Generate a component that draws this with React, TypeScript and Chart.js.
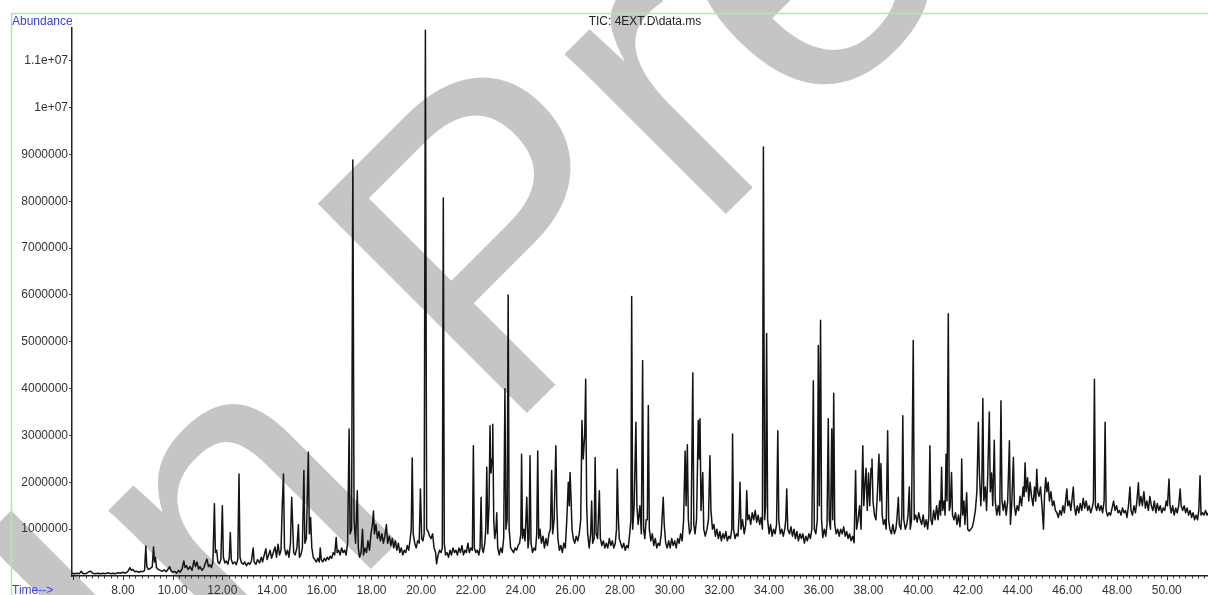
import React, { useEffect, useRef } from "react";
import { Chart, registerables } from "chart.js";

Chart.register(...registerables);

// Retention time (min) and TIC abundance (millions)
const TRACE_06_17: [number, number][] = [
  [5.95, 0.06], [6.05, 0.05], [6.15, 0.06], [6.25, 0.05], [6.32, 0.1], [6.38, 0.06], [6.45, 0.05], [6.55, 0.06],
  [6.62, 0.09], [6.7, 0.1], [6.78, 0.06], [6.88, 0.05], [7.0, 0.06], [7.1, 0.05], [7.2, 0.06], [7.3, 0.05],
  [7.4, 0.07], [7.5, 0.05], [7.6, 0.06], [7.7, 0.05], [7.8, 0.07], [7.9, 0.06], [8.0, 0.08], [8.1, 0.06],
  [8.2, 0.1], [8.28, 0.18], [8.34, 0.12], [8.4, 0.14], [8.48, 0.09], [8.56, 0.1], [8.64, 0.08], [8.72, 0.1],
  [8.8, 0.09], [8.87, 0.12], [8.92, 0.64], [8.96, 0.2], [9.02, 0.14], [9.1, 0.16], [9.18, 0.2], [9.23, 0.62],
  [9.27, 0.3], [9.31, 0.4], [9.35, 0.18], [9.42, 0.14], [9.5, 0.12], [9.58, 0.1], [9.66, 0.13], [9.74, 0.09],
  [9.82, 0.15], [9.88, 0.2], [9.93, 0.12], [10.0, 0.08], [10.08, 0.1], [10.16, 0.06], [10.24, 0.12], [10.3, 0.08],
  [10.38, 0.15], [10.45, 0.32], [10.5, 0.18], [10.56, 0.22], [10.62, 0.14], [10.7, 0.2], [10.78, 0.12], [10.86, 0.33],
  [10.92, 0.2], [10.98, 0.3], [11.04, 0.15], [11.1, 0.2], [11.18, 0.12], [11.26, 0.18], [11.33, 0.3], [11.38, 0.36],
  [11.44, 0.2], [11.5, 0.24], [11.56, 0.18], [11.62, 0.3], [11.68, 1.54], [11.72, 0.5], [11.77, 0.55], [11.82, 0.3],
  [11.88, 0.26], [11.94, 0.35], [12.0, 1.5], [12.04, 0.4], [12.1, 0.28], [12.16, 0.32], [12.22, 0.25], [12.28, 0.4],
  [12.32, 0.93], [12.36, 0.35], [12.42, 0.26], [12.5, 0.3], [12.56, 0.24], [12.62, 0.35], [12.67, 2.18], [12.71, 0.4],
  [12.77, 0.28], [12.84, 0.25], [12.9, 0.3], [12.97, 0.22], [13.04, 0.28], [13.1, 0.25], [13.17, 0.32], [13.24, 0.6],
  [13.28, 0.3], [13.35, 0.25], [13.42, 0.35], [13.5, 0.28], [13.57, 0.4], [13.62, 0.3], [13.7, 0.48], [13.75, 0.58],
  [13.8, 0.35], [13.86, 0.45], [13.92, 0.55], [13.98, 0.38], [14.05, 0.5], [14.12, 0.62], [14.18, 0.4], [14.24, 0.68],
  [14.3, 0.45], [14.36, 0.55], [14.41, 1.5], [14.46, 2.18], [14.5, 0.6], [14.56, 0.45], [14.62, 0.55], [14.68, 0.4],
  [14.74, 0.7], [14.79, 1.68], [14.83, 1.1], [14.87, 0.5], [14.93, 0.45], [15.0, 0.6], [15.06, 1.1], [15.1, 0.4],
  [15.16, 0.45], [15.22, 0.6], [15.28, 2.25], [15.32, 0.7], [15.38, 0.8], [15.46, 2.64], [15.5, 0.9], [15.55, 1.25],
  [15.6, 0.6], [15.66, 0.4], [15.72, 0.35], [15.78, 0.3], [15.84, 0.38], [15.9, 0.3], [15.94, 0.6], [15.98, 0.35],
  [16.04, 0.3], [16.1, 0.38], [16.16, 0.32], [16.22, 0.4], [16.28, 0.35], [16.34, 0.42], [16.4, 0.38], [16.46, 0.5],
  [16.52, 0.45], [16.58, 0.82], [16.62, 0.5], [16.68, 0.55], [16.74, 0.45], [16.8, 0.6], [16.86, 0.5], [16.92, 0.55],
  [16.98, 0.45],
];

const TRACE_17_29: [number, number][] = [
  [17.04, 0.7], [17.1, 3.14], [17.14, 0.9], [17.2, 1.0], [17.25, 8.88], [17.3, 1.2], [17.36, 0.7], [17.43, 1.82],
  [17.47, 0.6], [17.52, 0.4], [17.58, 0.5], [17.64, 1.0], [17.68, 0.45], [17.74, 0.6], [17.8, 0.5], [17.86, 0.75],
  [17.92, 0.55], [17.98, 0.9], [18.04, 1.1], [18.08, 1.39], [18.12, 0.9], [18.18, 1.1], [18.24, 0.8], [18.3, 0.95],
  [18.36, 0.75], [18.42, 0.9], [18.48, 0.7], [18.54, 0.85], [18.6, 1.1], [18.65, 0.7], [18.72, 0.85], [18.78, 0.65],
  [18.84, 0.8], [18.9, 0.6], [18.96, 0.75], [19.02, 0.55], [19.08, 0.7], [19.14, 0.5], [19.2, 0.6], [19.26, 0.45],
  [19.32, 0.55], [19.38, 0.5], [19.44, 0.65], [19.5, 0.55], [19.56, 0.8], [19.6, 1.0], [19.64, 2.52], [19.68, 0.9],
  [19.74, 0.7], [19.8, 0.6], [19.86, 0.75], [19.92, 0.7], [19.97, 1.86], [20.02, 0.8], [20.07, 0.75], [20.12, 0.9],
  [20.17, 11.65], [20.22, 1.0], [20.28, 0.95], [20.34, 0.85], [20.4, 0.8], [20.46, 0.9], [20.52, 0.6], [20.58, 0.5],
  [20.62, 0.26], [20.68, 0.45], [20.74, 0.55], [20.8, 0.5], [20.85, 0.6], [20.89, 8.07], [20.93, 0.7], [20.98, 0.45],
  [21.04, 0.5], [21.1, 0.4], [21.16, 0.55], [21.22, 0.45], [21.28, 0.6], [21.34, 0.5], [21.4, 0.55], [21.46, 0.45],
  [21.52, 0.6], [21.58, 0.5], [21.64, 0.65], [21.7, 0.45], [21.76, 0.55], [21.82, 0.5], [21.88, 0.7], [21.94, 0.5],
  [22.0, 0.6], [22.06, 0.55], [22.1, 2.78], [22.14, 0.6], [22.2, 0.5], [22.26, 0.55], [22.32, 0.45], [22.37, 0.6],
  [22.41, 1.68], [22.45, 0.6], [22.5, 0.5], [22.56, 0.7], [22.6, 1.0], [22.64, 2.32], [22.68, 0.9], [22.73, 1.5],
  [22.77, 3.21], [22.81, 2.2], [22.85, 2.5], [22.88, 3.24], [22.92, 1.2], [22.96, 0.8], [23.01, 1.0], [23.04, 1.35],
  [23.08, 0.6], [23.14, 0.45], [23.2, 0.6], [23.26, 0.5], [23.32, 0.8], [23.37, 4.0], [23.41, 1.0], [23.46, 1.2],
  [23.5, 6.0], [23.54, 1.0], [23.6, 0.6], [23.66, 0.55], [23.72, 0.5], [23.78, 0.6], [23.84, 0.55], [23.9, 0.65],
  [23.96, 0.7], [24.01, 0.9], [24.04, 2.6], [24.08, 0.8], [24.13, 1.0], [24.18, 0.75], [24.25, 1.68], [24.3, 0.6],
  [24.34, 0.8], [24.38, 2.57], [24.42, 0.7], [24.48, 0.5], [24.54, 0.6], [24.6, 0.55], [24.65, 0.9], [24.69, 2.67],
  [24.73, 0.8], [24.78, 1.0], [24.84, 0.7], [24.9, 0.85], [24.96, 0.6], [25.02, 0.8], [25.08, 0.65], [25.14, 0.9],
  [25.2, 1.0], [25.25, 2.25], [25.29, 0.9], [25.35, 1.2], [25.42, 2.78], [25.46, 1.46], [25.5, 0.8], [25.56, 0.55],
  [25.62, 0.65], [25.68, 0.5], [25.74, 0.7], [25.8, 0.6], [25.86, 1.2], [25.92, 2.0], [25.96, 1.5], [25.99, 2.21],
  [26.03, 1.67], [26.07, 1.0], [26.12, 0.8], [26.18, 0.7], [26.24, 0.85], [26.3, 0.75], [26.36, 0.9], [26.42, 1.2],
  [26.47, 3.32], [26.52, 2.5], [26.58, 3.0], [26.62, 4.2], [26.66, 1.5], [26.7, 0.9], [26.76, 0.6], [26.82, 0.9],
  [26.86, 1.6], [26.9, 0.7], [26.96, 0.8], [27.0, 2.53], [27.04, 0.9], [27.1, 0.8], [27.17, 1.82], [27.21, 0.8],
  [27.27, 0.65], [27.33, 0.75], [27.39, 0.6], [27.45, 0.7], [27.51, 0.6], [27.57, 0.8], [27.63, 0.65], [27.69, 0.75],
  [27.75, 0.6], [27.81, 0.7], [27.86, 1.0], [27.89, 2.28], [27.93, 1.3], [27.97, 0.8], [28.03, 0.7], [28.09, 0.6],
  [28.15, 0.7], [28.21, 0.55], [28.27, 0.65], [28.33, 0.6], [28.39, 0.9], [28.44, 1.2], [28.47, 5.97], [28.51, 1.0],
  [28.57, 1.5], [28.64, 3.28], [28.68, 1.5], [28.73, 1.1], [28.8, 1.5], [28.86, 0.9], [28.91, 4.6], [28.95, 1.0],
  [29.0, 0.8], [29.05, 1.2],
];

const TRACE_29_40: [number, number][] = [
  [29.1, 1.2], [29.14, 3.64], [29.18, 1.0], [29.24, 0.75], [29.3, 0.9], [29.36, 0.65], [29.42, 0.8], [29.48, 0.6],
  [29.54, 0.7], [29.6, 0.65], [29.66, 0.9], [29.71, 1.4], [29.74, 1.68], [29.78, 1.1], [29.84, 0.7], [29.9, 0.6],
  [29.96, 0.75], [30.02, 0.6], [30.08, 0.8], [30.14, 0.65], [30.2, 0.75], [30.26, 0.6], [30.32, 0.8], [30.38, 0.7],
  [30.44, 0.9], [30.5, 0.75], [30.56, 1.2], [30.62, 2.67], [30.66, 1.5], [30.71, 2.8], [30.75, 1.2], [30.8, 0.9],
  [30.86, 1.0], [30.93, 4.34], [30.97, 1.1], [31.02, 0.9], [31.08, 1.2], [31.15, 3.32], [31.19, 2.5], [31.22, 3.36],
  [31.26, 1.4], [31.33, 2.21], [31.37, 1.0], [31.43, 0.85], [31.5, 1.0], [31.56, 1.2], [31.62, 2.57], [31.66, 1.4],
  [31.72, 1.0], [31.78, 1.1], [31.84, 0.85], [31.9, 1.0], [31.96, 0.8], [32.02, 0.95], [32.08, 0.75], [32.14, 0.9],
  [32.2, 0.8], [32.26, 0.95], [32.32, 0.75], [32.38, 0.85], [32.44, 0.8], [32.5, 1.0], [32.53, 3.03], [32.57, 1.0],
  [32.63, 0.8], [32.69, 0.9], [32.75, 0.85], [32.8, 1.4], [32.83, 2.0], [32.87, 1.0], [32.93, 1.2], [33.0, 0.9],
  [33.06, 1.1], [33.1, 1.82], [33.14, 1.2], [33.2, 1.3], [33.26, 1.1], [33.32, 1.35], [33.38, 1.2], [33.44, 1.4],
  [33.5, 1.15], [33.56, 1.3], [33.62, 1.1], [33.68, 1.25], [33.73, 1.0], [33.77, 9.16], [33.82, 1.2], [33.86, 1.5],
  [33.9, 5.18], [33.94, 1.2], [34.0, 0.9], [34.06, 1.1], [34.12, 0.85], [34.18, 1.0], [34.24, 0.9], [34.3, 1.1],
  [34.35, 3.1], [34.39, 1.2], [34.45, 0.9], [34.51, 1.0], [34.57, 0.85], [34.63, 1.0], [34.67, 1.2], [34.71, 1.86],
  [34.75, 1.0], [34.82, 0.9], [34.88, 1.05], [34.94, 0.85], [35.0, 1.0], [35.06, 0.8], [35.12, 0.95], [35.18, 0.75],
  [35.24, 0.9], [35.3, 0.8], [35.36, 0.9], [35.42, 0.7], [35.48, 0.85], [35.54, 0.75], [35.6, 0.9], [35.66, 0.8],
  [35.72, 1.0], [35.78, 4.17], [35.82, 1.0], [35.88, 0.9], [35.94, 1.2], [35.98, 4.92], [36.02, 1.5], [36.07, 5.46],
  [36.11, 1.2], [36.16, 0.82], [36.22, 1.0], [36.28, 0.85], [36.33, 1.1], [36.38, 3.36], [36.42, 1.2], [36.47, 1.0],
  [36.52, 3.14], [36.56, 1.2], [36.6, 3.9], [36.64, 1.1], [36.7, 0.9], [36.76, 1.0], [36.82, 0.85], [36.88, 1.0],
  [36.94, 0.9], [37.0, 1.05], [37.06, 0.85], [37.12, 0.95], [37.18, 0.8], [37.24, 0.9], [37.3, 0.75], [37.36, 0.85],
  [37.42, 0.71], [37.48, 2.25], [37.52, 1.0], [37.58, 1.2], [37.64, 1.5], [37.7, 1.0], [37.77, 2.78], [37.81, 1.5],
  [37.86, 2.0], [37.9, 2.3], [37.95, 1.4], [38.0, 2.2], [38.05, 1.5], [38.1, 2.3], [38.14, 2.5], [38.18, 1.6],
  [38.24, 1.3], [38.3, 1.2], [38.36, 1.8], [38.42, 2.6], [38.46, 1.6], [38.5, 2.4], [38.55, 1.3], [38.6, 1.1],
  [38.66, 1.2], [38.71, 1.0], [38.77, 3.1], [38.81, 1.2], [38.86, 1.0], [38.92, 0.9], [38.98, 1.1], [39.04, 0.9],
  [39.1, 1.0], [39.14, 1.2], [39.2, 1.68], [39.24, 1.1], [39.3, 1.0], [39.34, 1.3], [39.38, 3.42], [39.42, 1.2],
  [39.48, 1.0], [39.54, 1.1], [39.59, 1.3], [39.64, 1.9], [39.68, 1.0], [39.73, 1.2], [39.8, 5.03], [39.84, 1.2],
  [39.9, 1.3], [39.96, 1.15],
];

const TRACE_40_52: [number, number][] = [
  [40.02, 1.35], [40.08, 1.2], [40.14, 1.1], [40.2, 1.3], [40.26, 1.05], [40.32, 1.2], [40.38, 1.0], [40.43, 1.3],
  [40.47, 2.78], [40.51, 1.2], [40.56, 1.1], [40.62, 1.4], [40.68, 1.2], [40.74, 1.5], [40.8, 1.2], [40.86, 1.6],
  [40.9, 1.3], [40.94, 2.32], [40.98, 1.4], [41.04, 1.6], [41.08, 1.3], [41.12, 2.6], [41.16, 1.6], [41.21, 5.6],
  [41.25, 1.4], [41.29, 1.5], [41.34, 2.21], [41.38, 1.3], [41.44, 1.2], [41.5, 1.35], [41.56, 1.1], [41.62, 1.3],
  [41.68, 1.05], [41.72, 1.4], [41.75, 2.5], [41.79, 1.3], [41.84, 1.6], [41.88, 1.1], [41.95, 1.78], [41.99, 1.0],
  [42.05, 0.96], [42.12, 1.0], [42.18, 1.05], [42.24, 1.2], [42.3, 1.4], [42.36, 1.8], [42.42, 3.28], [42.46, 2.2],
  [42.52, 1.5], [42.56, 2.0], [42.6, 3.79], [42.64, 1.6], [42.7, 1.9], [42.75, 1.4], [42.8, 2.2], [42.86, 3.5],
  [42.9, 1.8], [42.95, 2.2], [43.0, 1.5], [43.06, 2.9], [43.1, 1.6], [43.16, 1.3], [43.22, 1.5], [43.28, 1.3],
  [43.33, 3.74], [43.37, 1.6], [43.42, 1.4], [43.48, 1.6], [43.54, 1.3], [43.6, 1.6], [43.67, 2.89], [43.71, 1.1],
  [43.76, 1.5], [43.83, 2.53], [43.87, 1.5], [43.92, 1.3], [43.98, 1.5], [44.04, 1.4], [44.1, 1.7], [44.16, 1.5],
  [44.22, 1.9], [44.26, 1.7], [44.3, 2.42], [44.34, 1.8], [44.4, 2.1], [44.45, 1.6], [44.5, 2.0], [44.56, 1.7],
  [44.62, 1.5], [44.68, 1.9], [44.73, 1.6], [44.77, 2.28], [44.81, 1.8], [44.86, 1.7], [44.92, 1.9], [44.98, 1.5],
  [45.04, 1.0], [45.08, 1.7], [45.13, 2.1], [45.18, 1.8], [45.23, 2.0], [45.28, 1.6], [45.34, 1.8], [45.4, 1.5],
  [45.46, 1.6], [45.52, 1.4], [45.58, 1.35], [45.64, 1.25], [45.7, 1.4], [45.76, 1.3], [45.82, 1.5], [45.88, 1.35],
  [45.93, 1.6], [45.98, 1.86], [46.02, 1.5], [46.08, 1.6], [46.14, 1.4], [46.2, 1.7], [46.24, 1.9], [46.28, 1.5],
  [46.34, 1.3], [46.4, 1.5], [46.46, 1.35], [46.52, 1.55], [46.58, 1.4], [46.64, 1.66], [46.7, 1.45], [46.76, 1.6],
  [46.82, 1.4], [46.88, 1.5], [46.94, 1.35], [47.0, 1.45], [47.05, 1.6], [47.09, 4.2], [47.13, 1.5], [47.18, 1.4],
  [47.24, 1.55], [47.3, 1.4], [47.36, 1.5], [47.42, 1.35], [47.48, 1.6], [47.52, 3.28], [47.56, 1.4], [47.62, 1.28],
  [47.68, 1.35], [47.74, 1.3], [47.8, 1.45], [47.86, 1.6], [47.92, 1.4], [47.98, 1.5], [48.04, 1.35], [48.1, 1.4],
  [48.16, 1.3], [48.22, 1.45], [48.28, 1.35], [48.34, 1.4], [48.4, 1.25], [48.46, 1.5], [48.52, 1.9], [48.56, 1.4],
  [48.62, 1.3], [48.68, 1.5], [48.74, 1.35], [48.8, 1.6], [48.86, 1.99], [48.9, 1.5], [48.96, 1.7], [49.02, 1.5],
  [49.08, 1.8], [49.14, 1.45], [49.2, 1.6], [49.26, 1.4], [49.32, 1.7], [49.38, 1.5], [49.44, 1.4], [49.5, 1.6],
  [49.56, 1.35], [49.62, 1.55], [49.68, 1.4], [49.74, 1.5], [49.8, 1.35], [49.86, 1.45], [49.92, 1.4], [49.98, 1.6],
  [50.03, 1.5], [50.09, 2.07], [50.13, 1.5], [50.18, 1.35], [50.24, 1.5], [50.3, 1.3], [50.36, 1.45], [50.42, 1.35],
  [50.48, 1.5], [50.54, 1.86], [50.58, 1.5], [50.64, 1.4], [50.7, 1.5], [50.76, 1.35], [50.82, 1.45], [50.88, 1.3],
  [50.94, 1.4], [51.0, 1.25], [51.06, 1.35], [51.12, 1.2], [51.18, 1.3], [51.24, 1.2], [51.29, 1.4], [51.34, 2.14],
  [51.38, 1.3], [51.44, 1.35], [51.5, 1.3], [51.56, 1.4], [51.62, 1.3], [51.68, 1.35],
];

const Y_TICK_VALUES = [1e6, 2e6, 3e6, 4e6, 5e6, 6e6, 7e6, 8e6, 9e6, 1e7, 1.1e7];
const X_LABEL_VALUES = [8, 10, 12, 14, 16, 18, 20, 22, 24, 26, 28, 30, 32, 34, 36, 38, 40, 42, 44, 46, 48, 50];

const TITLE = "TIC: 4EXT.D\\data.ms";
const Y_TITLE = "Abundance";
const X_TITLE = "Time-->";
const WATERMARK = "In Press";

const X_MIN = 5.95;
const X_MAX = 51.66;
const Y_MAX = 11.7e6;
const FONT = "'Liberation Sans', Arial, Helvetica, sans-serif";

const decorPlugin = {
  id: "decor",
  beforeDraw(chart: any) {
    const ctx = chart.ctx as CanvasRenderingContext2D;
    ctx.save();
    ctx.fillStyle = "#c5c5c5";
    ctx.font = `430px ${FONT}`;
    ctx.translate(502, 438);
    ctx.rotate(-Math.PI / 4);
    const off = ctx.measureText("In ").width;
    ctx.textBaseline = "alphabetic";
    ctx.fillText(WATERMARK, -off, 0);
    ctx.restore();

    ctx.save();
    ctx.strokeStyle = "#a6f0a6";
    ctx.lineWidth = 1.5;
    ctx.beginPath();
    ctx.moveTo(11, 13.5);
    ctx.lineTo(1208, 13.5);
    ctx.moveTo(11.5, 13);
    ctx.lineTo(11.5, 595);
    ctx.stroke();
    ctx.restore();
  },
  afterDraw(chart: any) {
    const ctx = chart.ctx as CanvasRenderingContext2D;
    const xs = chart.scales.x;
    const area = chart.chartArea;
    ctx.save();
    ctx.strokeStyle = "#333";
    ctx.lineWidth = 1;
    const kMin = Math.ceil(X_MIN / 0.25);
    const kMax = Math.floor(X_MAX / 0.25);
    ctx.beginPath();
    for (let k = kMin; k <= kMax; k++) {
      const px = Math.round(xs.getPixelForValue(k * 0.25)) + 0.5;
      const len = k % 8 === 0 ? 4 : 2.5;
      ctx.moveTo(px, area.bottom);
      ctx.lineTo(px, area.bottom + len);
    }
    ctx.stroke();

    ctx.font = `12px ${FONT}`;
    ctx.textBaseline = "alphabetic";
    ctx.fillStyle = "#3a3aff";
    ctx.textAlign = "left";
    ctx.fillText(Y_TITLE, 12, 25);
    ctx.fillText(X_TITLE, 12, 594);
    ctx.fillStyle = "#222";
    ctx.textAlign = "center";
    ctx.fillText(TITLE, 645, 25);
    ctx.restore();
  },
};

export default function App() {
  const ref = useRef<HTMLCanvasElement | null>(null);

  useEffect(() => {
    if (!ref.current) return;
    const points = [...TRACE_06_17, ...TRACE_17_29, ...TRACE_29_40, ...TRACE_40_52].map(([t, m]) => ({
      x: t,
      y: m * 1e6,
    }));
    const chart = new Chart(ref.current, {
      type: "line",
      data: {
        datasets: [
          {
            data: points,
            borderColor: "#141414",
            borderWidth: 1.5,
            borderJoinStyle: "round",
            pointRadius: 0,
            tension: 0,
            fill: false,
          },
        ],
      },
      options: {
        responsive: false,
        animation: false,
        events: [],
        layout: { padding: { top: 28, left: 0, right: 0, bottom: 0 } },
        plugins: { legend: { display: false }, tooltip: { enabled: false }, title: { display: false } },
        scales: {
          x: {
            type: "linear",
            min: X_MIN,
            max: X_MAX,
            afterFit: (s: any) => {
              s.height = 19;
            },
            afterBuildTicks: (s: any) => {
              s.ticks = X_LABEL_VALUES.map((v) => ({ value: v }));
            },
            ticks: {
              autoSkip: false,
              maxRotation: 0,
              padding: 4,
              color: "#333",
              font: { family: FONT, size: 12 },
              callback: (v: any) => Number(v).toFixed(2),
            },
            grid: { display: true, drawOnChartArea: false, drawTicks: true, tickLength: 3, color: "rgba(0,0,0,0)" },
            border: { display: true, color: "#222", width: 1.5 },
          },
          y: {
            type: "linear",
            min: 0,
            max: Y_MAX,
            afterFit: (s: any) => {
              s.width = 72;
            },
            afterBuildTicks: (s: any) => {
              s.ticks = Y_TICK_VALUES.map((v) => ({ value: v }));
            },
            ticks: {
              padding: 1,
              color: "#333",
              font: { family: FONT, size: 12 },
              callback: (v: any) => {
                const n = Number(v);
                if (n >= 1e7) return `${+(n / 1e7).toFixed(1)}e+07`;
                return String(Math.round(n));
              },
            },
            grid: { display: true, drawOnChartArea: false, drawTicks: true, tickLength: 3, color: "#444" },
            border: { display: true, color: "#222", width: 1.5 },
          },
        },
      },
      plugins: [decorPlugin],
    });
    return () => chart.destroy();
  }, []);

  return (
    <div style={{ position: "absolute", left: 0, top: 0, width: 1208, height: 595, background: "#fff" }}>
      <canvas ref={ref} width={1208} height={595} style={{ display: "block" }} />
    </div>
  );
}
